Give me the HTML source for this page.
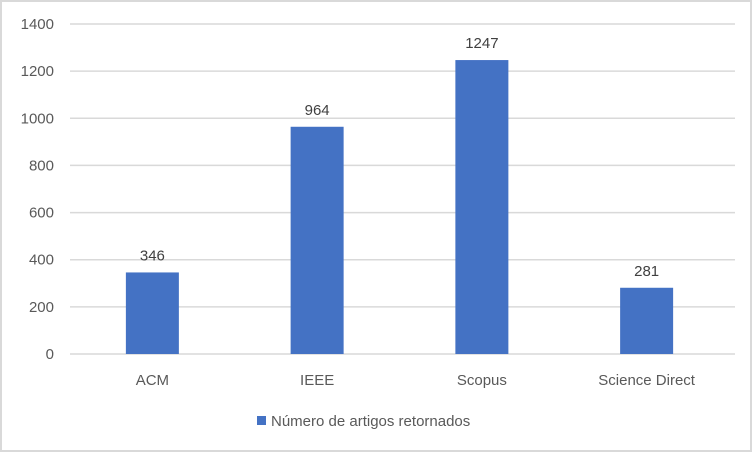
<!DOCTYPE html>
<html><head><meta charset="utf-8"><style>
body{margin:0;background:#fff;}
svg{display:block;font-family:"Liberation Sans",Calibri,sans-serif;}
</style></head><body>
<svg width="752" height="452">
<rect x="1" y="1" width="750" height="450" fill="#fff" stroke="#d9d9d9" stroke-width="2"/>
<g id="grid"></g><g id="bars"></g><g id="labels"></g>
<g>
<rect x="257" y="416" width="9" height="9" fill="#4472c4"/>
<text x="271" y="426" font-size="15" fill="#595959">Número de artigos retornados</text>
</g>
</svg>
<script>
const categories=["ACM","IEEE","Scopus","Science Direct"];
const values=[346,964,1247,281];
const ticks=[0,200,400,600,800,1000,1200,1400];
const NS="http://www.w3.org/2000/svg";
const x0=70,x1=729,gx1=735,yTop=24,yBot=354,maxV=1400;
const band=(x1-x0)/categories.length,bw=53;
function y(v){return yBot-(v/maxV)*(yBot-yTop);}
function xc(i){return x0+band*(i+0.5);}
function mk(t,a,p){const e=document.createElementNS(NS,t);for(const k in a)e.setAttribute(k,a[k]);p.appendChild(e);return e;}
const g=document.getElementById('grid'),b=document.getElementById('bars'),l=document.getElementById('labels');
ticks.forEach(t=>{
const ln=mk('line',{x1:x0,x2:gx1,y1:y(t),y2:y(t),stroke:'#d9d9d9','stroke-width':1.5},g);


const tx=mk('text',{x:54,y:y(t)+5,'text-anchor':'end','font-size':15,fill:'#595959'},g);
tx.textContent=t;


});
categories.forEach((c,i)=>{
const r=mk('rect',{x:xc(i)-bw/2,y:y(values[i]),width:bw,height:yBot-y(values[i]),fill:'#4472c4'},b);


const v=mk('text',{x:xc(i),y:y(values[i])-12,'text-anchor':'middle','font-size':15,fill:'#404040'},l);
v.textContent=values[i];


const cl=mk('text',{x:xc(i),y:385,'text-anchor':'middle','font-size':15,fill:'#595959'},l);
cl.textContent=c;


});
</script>
</body></html>
